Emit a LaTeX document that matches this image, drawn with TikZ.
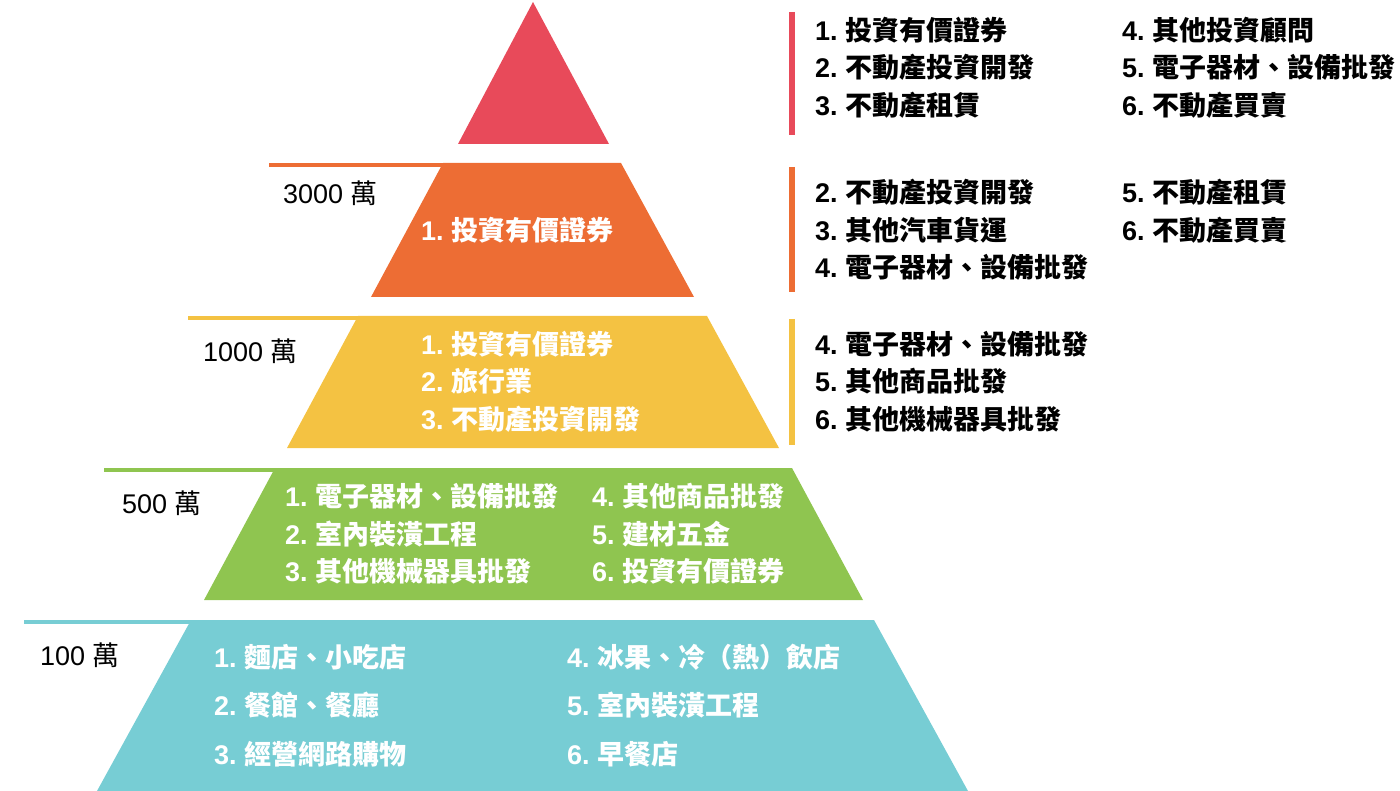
\documentclass[tikz,border=0pt]{standalone}
\usepackage{fontspec}
\setmainfont{Liberation Sans}
\newfontfamily\cjk{Noto Sans CJK TC}
\definecolor{pyrred}{HTML}{E84A5A}
\definecolor{pyrorange}{HTML}{ED6D34}
\definecolor{pyryellow}{HTML}{F4C242}
\definecolor{pyrgreen}{HTML}{8FC550}
\definecolor{pyrcyan}{HTML}{77CDD4}
\newcommand\rank[2]{#1.~{\cjk #2}}
\newcommand\wan[1]{#1~{\cjk 萬}}
\begin{document}
\begin{tikzpicture}[x=1pt,y=-1pt,
        lst/.style={anchor=west,align=left,inner sep=0pt,
            font=\bfseries\fontsize{27}{37.5}\selectfont},
        inlst/.style={lst,text=white},
        amount/.style={anchor=west,inner sep=0pt,
            font=\fontsize{27}{31}\selectfont},
        ledge/.style={line width=4pt},
        bar/.style={line width=6pt}
    ]
    \useasboundingbox (0,0) rectangle (1400,791);
    % pyramid
    \fill[pyrred] (533,2) -- (609,144) -- (458,144) -- cycle;
    \draw[ledge,pyrorange] (269,165) -- (460,165);
    \fill[pyrorange] (443,163) -- (621,163) -- (694,297) -- (371,297) -- cycle;
    \draw[ledge,pyryellow] (188,318) -- (375,318);
    \fill[pyryellow] (358,316) -- (707,316) -- (779,448) -- (287,448) -- cycle;
    \draw[ledge,pyrgreen] (104,470) -- (290,470);
    \fill[pyrgreen] (275,468) -- (792,468) -- (863,600) -- (204,600) -- cycle;
    \draw[ledge,pyrcyan] (24,622) -- (205,622);
    \fill[pyrcyan] (191,620) -- (874,620) -- (968,791) -- (97,791) -- cycle;
    % bars
    \draw[bar,pyrred] (792,12) -- (792,135);
    \draw[bar,pyrorange] (792,167) -- (792,292);
    \draw[bar,pyryellow] (792,319) -- (792,445);
    % amounts
    \node[amount] (amt3000) at (283,193) {\wan{3000}};
    \node[amount] (amt1000) at (203,351) {\wan{1000}};
    \node[amount] (amt500) at (122,503) {\wan{500}};
    \node[amount] (amt100) at (40,655) {\wan{100}};
    % inside the pyramid
    \node[inlst] (orangein) at (421,230) {\rank{1}{投資有價證券}};
    \node[inlst] (yellowin) at (421,381.5)
        {\rank{1}{投資有價證券}\\
         \rank{2}{旅行業}\\
         \rank{3}{不動產投資開發}};
    \node[inlst] (greeninA) at (285,534)
        {\rank{1}{電子器材、設備批發}\\
         \rank{2}{室內裝潢工程}\\
         \rank{3}{其他機械器具批發}};
    \node[inlst] (greeninB) at (592,534)
        {\rank{4}{其他商品批發}\\
         \rank{5}{建材五金}\\
         \rank{6}{投資有價證券}};
    \node[inlst,font=\bfseries\fontsize{27}{48.5}\selectfont] (cyaninA) at (214,705.5)
        {\rank{1}{麵店、小吃店}\\
         \rank{2}{餐館、餐廳}\\
         \rank{3}{經營網路購物}};
    \node[inlst,font=\bfseries\fontsize{27}{48.5}\selectfont] (cyaninB) at (567,705.5)
        {\rank{4}{冰果、冷（熱）飲店}\\
         \rank{5}{室內裝潢工程}\\
         \rank{6}{早餐店}};
    % lists on the right
    \node[lst] (redlstA) at (815,67.5)
        {\rank{1}{投資有價證券}\\
         \rank{2}{不動產投資開發}\\
         \rank{3}{不動產租賃}};
    \node[lst] (redlstB) at (1122,67.5)
        {\rank{4}{其他投資顧問}\\
         \rank{5}{電子器材、設備批發}\\
         \rank{6}{不動產買賣}};
    \node[lst] (orangelstA) at (815,230)
        {\rank{2}{不動產投資開發}\\
         \rank{3}{其他汽車貨運}\\
         \rank{4}{電子器材、設備批發}};
    \node[lst] (orangelstB) at (1122,211)
        {\rank{5}{不動產租賃}\\
         \rank{6}{不動產買賣}};
    \node[lst] (yellowlst) at (815,381.5)
        {\rank{4}{電子器材、設備批發}\\
         \rank{5}{其他商品批發}\\
         \rank{6}{其他機械器具批發}};
\end{tikzpicture}
\end{document}
